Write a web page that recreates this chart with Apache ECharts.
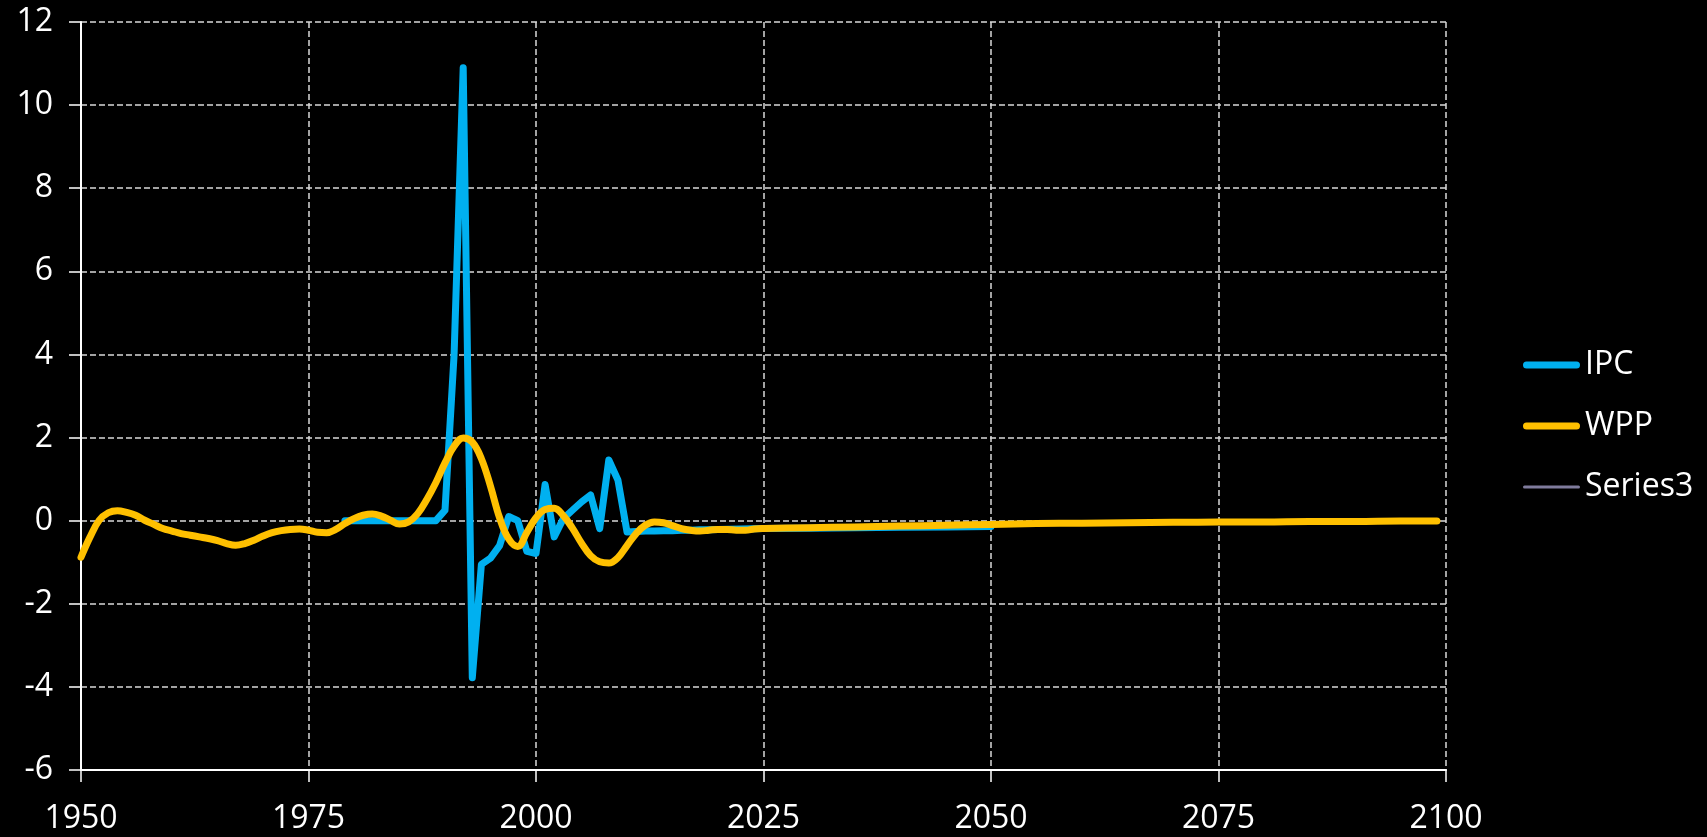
<!DOCTYPE html>
<html>
<head>
<meta charset="utf-8">
<script src="https://cdn.jsdelivr.net/npm/echarts@6/dist/echarts.min.js"></script>
<style>
html,body{margin:0;padding:0;background:#000;}
#chart{width:1707px;height:837px;}
</style>
</head>
<body>
<div id="chart"></div>
<script>
// x-axis tick labels
const xTicks = [1950, 1975, 2000, 2025, 2050, 2075, 2100];
const yTicks = [-6, -4, -2, 0, 2, 4, 6, 8, 10, 12];

// IPC series
const ipcYears = [1979,1980,1981,1982,1983,1984,1985,1986,1987,1988,1989,1990,1991,1992,1993,1994,1995,1996,1997,1998,1999,2000,2001,2002,2003,2004,2005,2006,2007,2008,2009,2010,2011,2012,2013,2014,2015,2016,2017,2018,2019,2020,2025,2030,2035,2040,2045,2050];
const ipcValues = [0.0,0.0,0.0,0.0,0.0,0.0,0.0,0.0,0.0,0.0,0.0,0.25,4.0,10.9,-3.78,-1.05,-0.9,-0.6,0.1,0.0,-0.74,-0.79,0.87,-0.39,0.05,0.25,0.45,0.62,-0.19,1.46,0.98,-0.27,-0.26,-0.25,-0.25,-0.24,-0.24,-0.23,-0.23,-0.22,-0.22,-0.21,-0.19,-0.18,-0.17,-0.16,-0.15,-0.14];

// WPP series
const wppYears = [1950,1951,1952,1953,1954,1955,1956,1957,1958,1959,1960,1961,1962,1963,1964,1965,1966,1967,1968,1969,1970,1971,1972,1973,1974,1975,1976,1977,1978,1979,1980,1981,1982,1983,1984,1985,1986,1987,1988,1989,1990,1991,1992,1993,1994,1995,1996,1997,1998,1999,2000,2001,2002,2003,2004,2005,2006,2007,2008,2009,2010,2011,2012,2013,2014,2015,2016,2017,2018,2019,2020,2021,2022,2023,2024,2025,2030,2035,2040,2045,2050,2055,2060,2065,2070,2075,2080,2085,2090,2095,2099];
const wppValues = [-0.88,-0.39,0.01,0.19,0.24,0.20,0.13,0.01,-0.09,-0.19,-0.25,-0.31,-0.35,-0.39,-0.43,-0.48,-0.55,-0.59,-0.55,-0.47,-0.37,-0.29,-0.24,-0.21,-0.20,-0.23,-0.28,-0.29,-0.21,-0.07,0.05,0.13,0.16,0.11,0.01,-0.08,-0.03,0.17,0.51,0.92,1.39,1.79,1.99,1.89,1.49,0.83,0.07,-0.44,-0.62,-0.28,0.07,0.27,0.30,0.12,-0.18,-0.54,-0.84,-0.99,-1.02,-0.89,-0.60,-0.31,-0.11,-0.03,-0.05,-0.12,-0.19,-0.23,-0.25,-0.23,-0.21,-0.21,-0.23,-0.23,-0.20,-0.19,-0.17,-0.15,-0.13,-0.11,-0.09,-0.07,-0.06,-0.05,-0.04,-0.03,-0.03,-0.02,-0.02,-0.01,-0.01];

// Series3 (empty)
const series3Values = [];

const seriesNames = ['IPC', 'WPP', 'Series3'];

function pairs(xs, ys) { return xs.map((x, i) => [x, ys[i]]); }

// legend icons: rounded line strokes inside a fixed 57x14 box
const thickIcon = 'path://M0,0 M3.5,3.5 H53.5 A3.5,3.5 0 0 1 53.5,10.5 H3.5 A3.5,3.5 0 0 1 3.5,3.5 Z M57,14';
const thinIcon = 'path://M0,0 M1.5,5.5 H55.5 A1.5,1.5 0 0 1 55.5,8.5 H1.5 A1.5,1.5 0 0 1 1.5,5.5 Z M57,14';

const FONT = '"Open Sans", "Liberation Sans", sans-serif';
const chart = echarts.init(document.getElementById('chart'));
chart.setOption({
  backgroundColor: '#000000',
  animation: false,
  grid: { left: 81, right: 261, top: 22, bottom: 67, containLabel: false },
  legend: {
    orient: 'vertical',
    left: 1518,
    top: 341,
    data: [
      { name: seriesNames[0], icon: thickIcon },
      { name: seriesNames[1], icon: thickIcon },
      { name: seriesNames[2], icon: thinIcon }
    ],
    itemWidth: 57,
    itemHeight: 14,
    itemGap: 23,
    textStyle: { color: '#ffffff', fontFamily: FONT, fontSize: 32, lineHeight: 38 }
  },
  xAxis: {
    type: 'value',
    min: xTicks[0],
    max: xTicks[xTicks.length - 1],
    interval: 25,
    axisLine: { show: true, onZero: false, lineStyle: { color: '#ffffff', width: 2 } },
    axisTick: { show: true, length: 12, lineStyle: { color: '#ffffff', width: 1.5 } },
    axisLabel: { color: '#ffffff', fontFamily: FONT, fontSize: 32, margin: 33, formatter: v => String(v) },
    splitLine: { show: true, lineStyle: { color: '#d9d9d9', width: 1.5, type: [6, 3] } }
  },
  yAxis: {
    type: 'value',
    min: yTicks[0],
    max: yTicks[yTicks.length - 1],
    interval: 2,
    axisLine: { show: true, lineStyle: { color: '#ffffff', width: 2 } },
    axisTick: { show: true, length: 12, lineStyle: { color: '#ffffff', width: 1.5 } },
    axisLabel: { color: '#ffffff', fontFamily: FONT, fontSize: 32, margin: 28 },
    splitLine: { show: true, lineStyle: { color: '#d9d9d9', width: 1.5, type: [6, 3] } }
  },
  series: [
    {
      name: seriesNames[0], type: 'line', symbol: 'none', smooth: false,
      data: pairs(ipcYears, ipcValues),
      lineStyle: { color: '#00b0f0', width: 7, cap: 'round', join: 'round' },
      itemStyle: { color: '#00b0f0' }
    },
    {
      name: seriesNames[1], type: 'line', symbol: 'none', smooth: 0.4,
      data: pairs(wppYears, wppValues),
      lineStyle: { color: '#ffc000', width: 7, cap: 'round', join: 'round' },
      itemStyle: { color: '#ffc000' }
    },
    {
      name: seriesNames[2], type: 'line', symbol: 'none',
      data: series3Values,
      lineStyle: { color: '#7f7b9c', width: 3, cap: 'round' },
      itemStyle: { color: '#7f7b9c' }
    }
  ]
});
</script>
</body>
</html>
